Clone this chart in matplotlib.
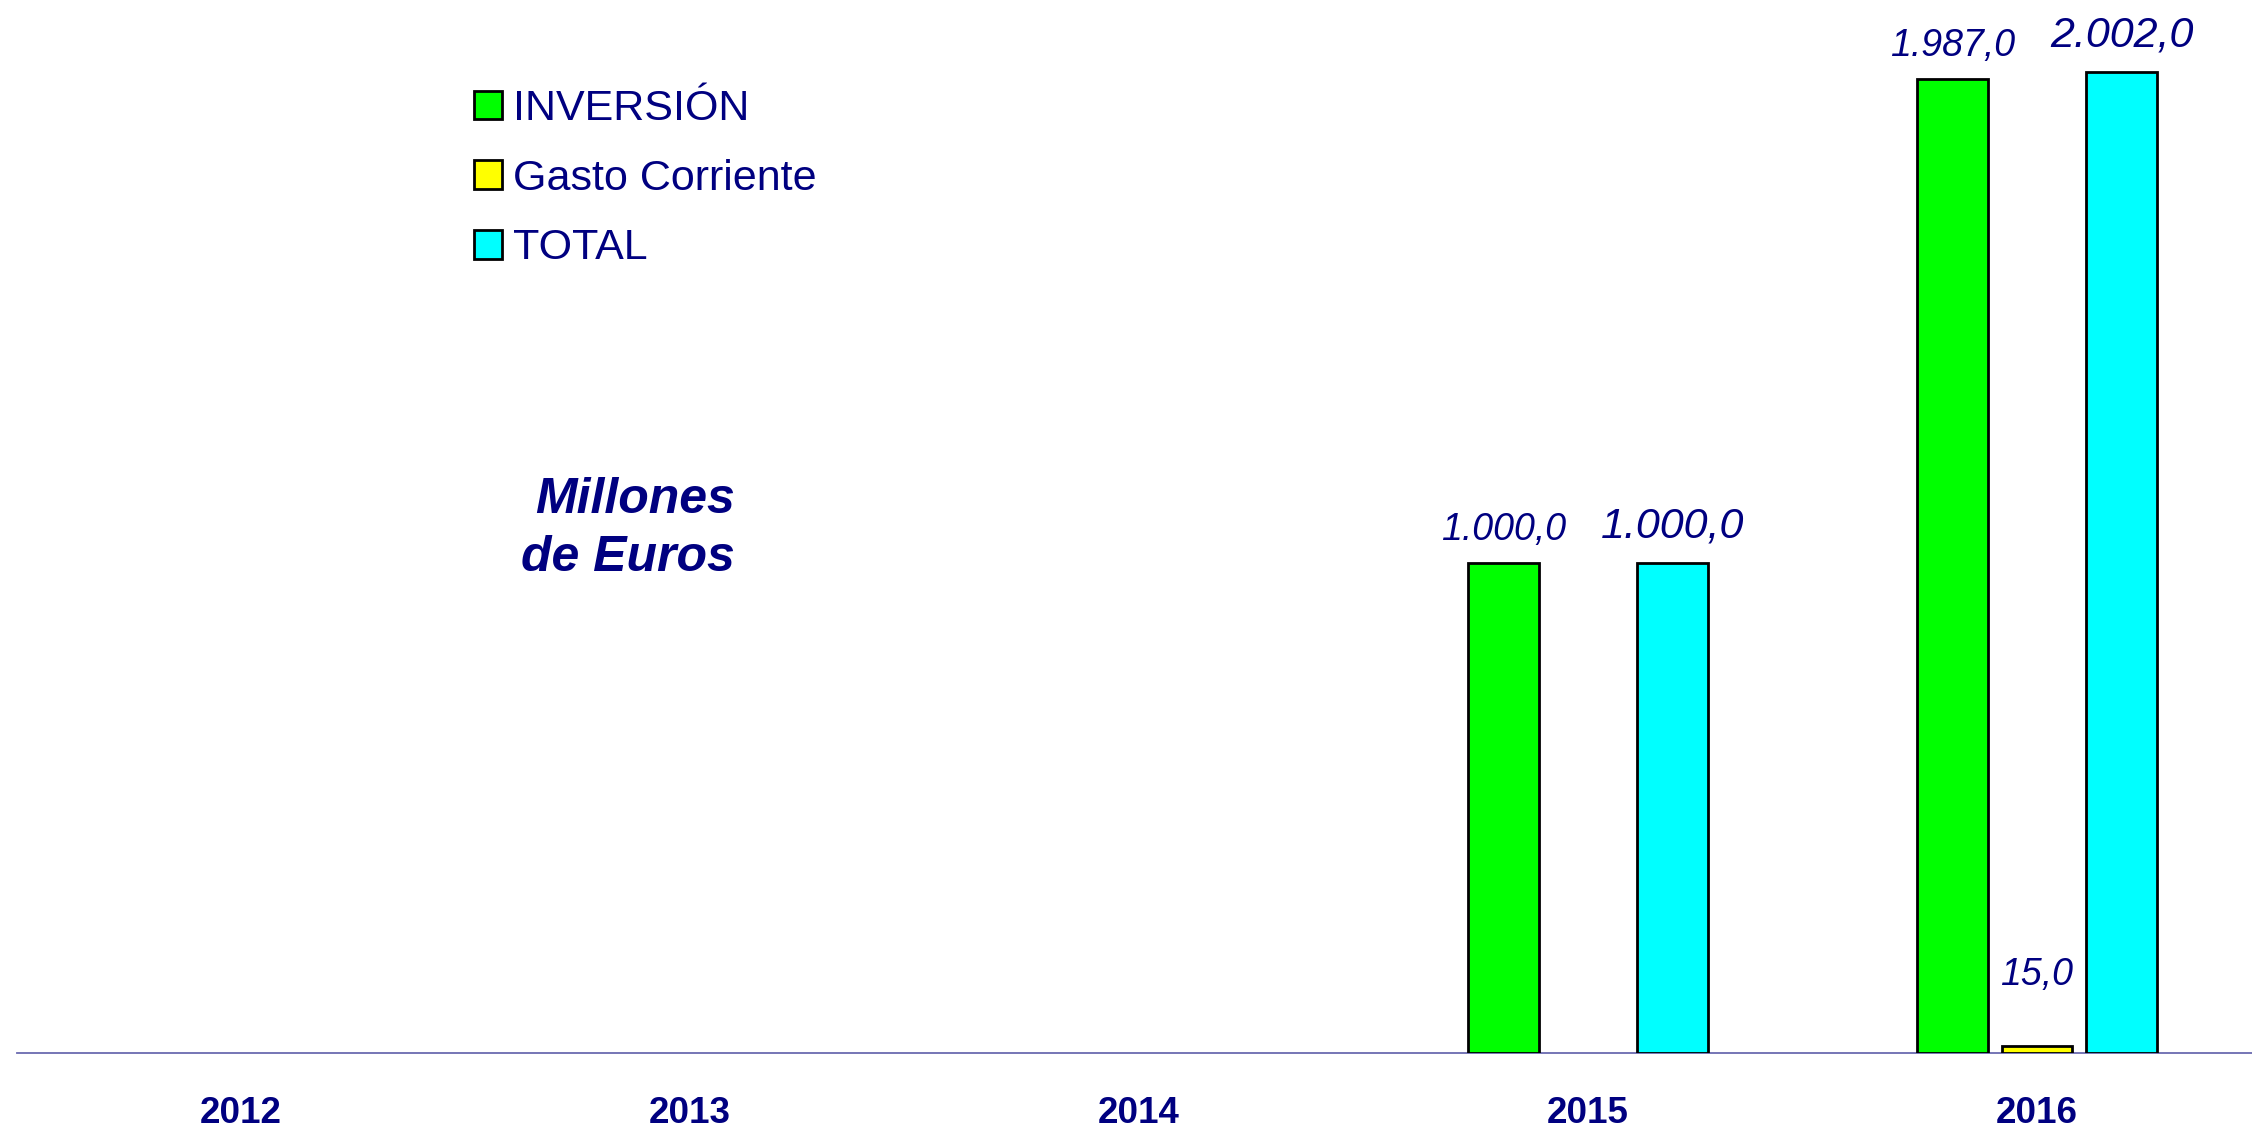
import numpy as np
import matplotlib
matplotlib.use("Agg")
import matplotlib.pyplot as plt
from matplotlib.patches import Patch

plt.rcParams['font.family'] = ['Liberation Sans', 'DejaVu Sans']

years = ['2012', '2013', '2014', '2015', '2016']
inversion = [np.nan, np.nan, np.nan, 1000.0, 1987.0]
gasto = [np.nan, np.nan, np.nan, np.nan, 15.0]
total = [np.nan, np.nan, np.nan, 1000.0, 2002.0]
series_names = ['INVERSIÓN', 'Gasto Corriente', 'TOTAL']
unit_label = 'Millones\nde Euros'

NAVY = '#000080'
colors = ['#00FF00', '#FFFF00', '#00FFFF']
offsets = [-0.189, 0.0, 0.189]
label_sizes = [27, 27, 31]
label_pads = [16.5, 44, 18.5]  # points above bar top
bar_w = 0.158

W, H = 2252, 1129
fig = plt.figure(figsize=(W / 100, H / 100), dpi=100)
ax_left = 16.5 / W
ax_bottom = (H - 1053) / H
ax = fig.add_axes([ax_left, ax_bottom, 2245 / W, 1053 / H])

x = np.arange(len(years))
for vals, col, off, fs, pad in zip([inversion, gasto, total], colors, offsets, label_sizes, label_pads):
    vals = np.array(vals, dtype=float)
    ax.bar(x + off, vals, width=bar_w, color=col, edgecolor='black', linewidth=2.0, zorder=3)
    for xi, v in zip(x, vals):
        if np.isnan(v):
            continue
        txt = f"{v:,.1f}".replace(',', 'X').replace('.', ',').replace('X', '.')
        ax.annotate(txt, (xi + off, v), xytext=(0, pad), textcoords='offset points',
                    ha='center', va='baseline', fontsize=fs, style='italic', color=NAVY,
                    annotation_clip=False)

ax.set_xlim(-0.5, len(years) - 0.5)
ax.set_ylim(0, 2149)
for s in ['top', 'right', 'left']:
    ax.spines[s].set_visible(False)
ax.spines['bottom'].set_color('#6A6AB0')
ax.spines['bottom'].set_linewidth(1.3)
ax.set_yticks([])
ax.set_xticks(x)
ax.set_xticklabels(years, fontsize=26.5, fontweight='bold', color=NAVY)
ax.tick_params(axis='x', length=0, pad=31)

handles = [Patch(facecolor=c, edgecolor='black', linewidth=2.0) for c in colors]
leg = fig.legend(handles, series_names, loc='upper left',
                 bbox_to_anchor=(474 / W, 1 - 89 / H), bbox_transform=fig.transFigure,
                 frameon=False, fontsize=31, handlelength=0.65, handleheight=0.65,
                 handletextpad=0.26, labelspacing=0.69, borderpad=0, borderaxespad=0)
for t in leg.get_texts():
    t.set_color(NAVY)

fig.text(735 / W, 1 - 571 / H, unit_label, ha='right', ma='right', va='baseline',
         fontsize=36, fontweight='bold', style='italic', color=NAVY, linespacing=1.32)

fig.savefig('out.png', dpi=100)
